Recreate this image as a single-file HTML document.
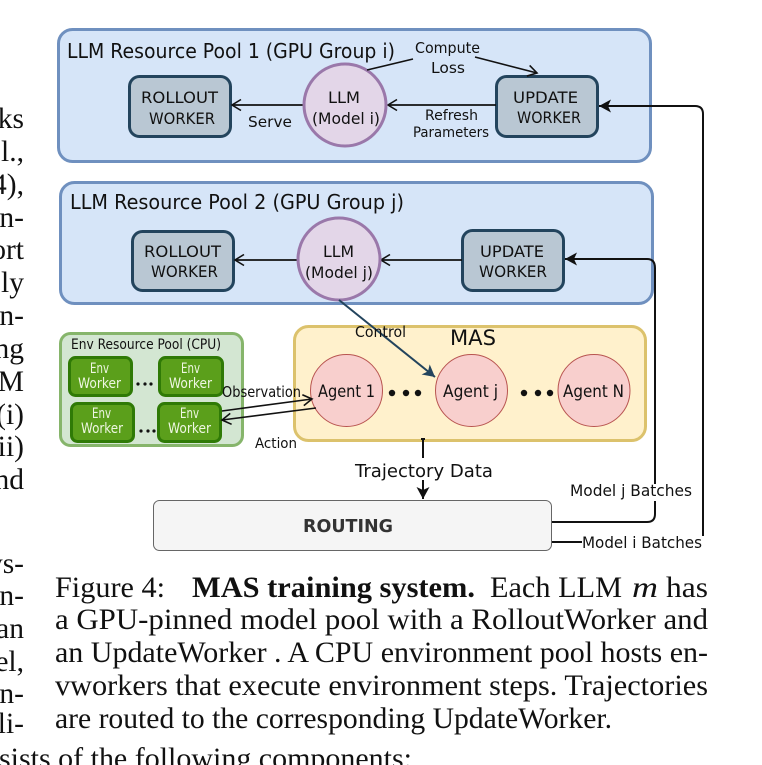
<!DOCTYPE html>
<html><head><meta charset="utf-8"><style>
html,body{margin:0;padding:0;background:#fff}
svg{display:block}
.d{font-family:"DejaVu Sans","Liberation Sans",sans-serif;fill:#111}
.s{font-family:"Liberation Serif",serif;font-size:29.5px;fill:#111}
.w{fill:#eef6e2;font-size:14px}
</style></head><body>
<svg width="762" height="765" viewBox="0 0 762 765" xmlns="http://www.w3.org/2000/svg">
<defs>
<marker id="o" markerUnits="userSpaceOnUse" markerWidth="14" markerHeight="14" refX="11" refY="7" orient="auto"><path d="M2 1.5L11 7L2 12.5" fill="none" stroke="#111" stroke-width="1.6"/></marker>
<marker id="f" markerUnits="userSpaceOnUse" markerWidth="16" markerHeight="16" refX="13" refY="8" orient="auto"><path d="M1 1.5L13 8L1 14.5L4 8Z" fill="#111"/></marker>
<marker id="c" markerUnits="userSpaceOnUse" markerWidth="16" markerHeight="16" refX="13" refY="8" orient="auto"><path d="M1 1.5L13 8L1 14.5L4 8Z" fill="#23445d"/></marker>
</defs>

<!-- left column -->
<g class="s" text-anchor="end">
<text x="24" y="128">ks</text><text x="24" y="161">l.,</text><text x="24" y="194">4),</text><text x="24" y="227">n-</text><text x="24" y="259">ort</text><text x="24" y="292">ly</text><text x="24" y="325">n-</text><text x="24" y="358">ng</text><text x="24" y="391">M</text><text x="24" y="424">(i)</text><text x="24" y="456">ii)</text><text x="24" y="489">nd</text>
<text x="24" y="573">ys-</text><text x="24" y="605">n-</text><text x="24" y="638">an</text><text x="24" y="671">el,</text><text x="24" y="703">n-</text><text x="24" y="733">li-</text>
</g>

<!-- pools -->
<rect x="58.5" y="29.5" width="592" height="132" rx="14" fill="#d6e5f8" stroke="#6f90bf" stroke-width="3"/>
<rect x="60.5" y="182.5" width="592" height="121" rx="14" fill="#d6e5f8" stroke="#6f90bf" stroke-width="3"/>
<rect x="60.5" y="333.5" width="182" height="112" rx="10" fill="#d3e6d2" stroke="#86b56b" stroke-width="3"/>
<rect x="294.5" y="326.5" width="351" height="114" rx="14" fill="#fff1cc" stroke="#dcc26c" stroke-width="3"/>

<!-- pool 1 nodes -->
<rect x="129.5" y="76.5" width="101" height="60" rx="10" fill="#b9c7d3" stroke="#23445d" stroke-width="3"/>
<rect x="496.5" y="76.5" width="101" height="60" rx="10" fill="#b9c7d3" stroke="#23445d" stroke-width="3"/>
<path d="M304 105H232" fill="none" stroke="#111" stroke-width="1.8" marker-end="url(#o)"/>
<path d="M496 105H388" fill="none" stroke="#111" stroke-width="1.8" marker-end="url(#o)"/>
<circle cx="345" cy="105" r="41" fill="#e3d6e8" stroke="#9a78aa" stroke-width="3"/>
<path d="M367 70L413 59" fill="none" stroke="#111" stroke-width="1.6"/>
<path d="M475 57L537 73" fill="none" stroke="#111" stroke-width="1.6" marker-end="url(#o)"/>

<!-- pool 2 nodes -->
<rect x="132.5" y="231.5" width="101" height="59" rx="10" fill="#b9c7d3" stroke="#23445d" stroke-width="3"/>
<rect x="462.5" y="230.5" width="101" height="60" rx="10" fill="#b9c7d3" stroke="#23445d" stroke-width="3"/>
<path d="M298 260H235" fill="none" stroke="#111" stroke-width="1.8" marker-end="url(#o)"/>
<path d="M462 260H381" fill="none" stroke="#111" stroke-width="1.8" marker-end="url(#o)"/>
<circle cx="339" cy="259" r="41" fill="#e3d6e8" stroke="#9a78aa" stroke-width="3"/>

<!-- env workers -->
<g fill="#5b9f1b" stroke="#2f7a06" stroke-width="3">
<rect x="69.5" y="357.5" width="62" height="38" rx="6"/>
<rect x="159.5" y="357.5" width="63" height="38" rx="6"/>
<rect x="71.5" y="403.5" width="62" height="38" rx="6"/>
<rect x="158.5" y="403.5" width="62" height="38" rx="6"/>
</g>
<g fill="#111"><circle cx="138" cy="384" r="1.6"/><circle cx="145" cy="384" r="1.6"/><circle cx="151" cy="384" r="1.6"/><circle cx="141" cy="431" r="1.6"/><circle cx="148" cy="431" r="1.6"/><circle cx="154" cy="431" r="1.6"/></g>

<!-- agents -->
<g fill="#f8cfcd" stroke="#b85450" stroke-width="1">
<circle cx="346.5" cy="390.5" r="36"/><circle cx="471.5" cy="390.5" r="36"/><circle cx="594" cy="390.5" r="36"/>
</g>
<g fill="#111"><circle cx="392" cy="393" r="3.2"/><circle cx="406" cy="393" r="3.2"/><circle cx="418" cy="393" r="3.2"/><circle cx="524" cy="393" r="3.2"/><circle cx="538" cy="393" r="3.2"/><circle cx="550" cy="393" r="3.2"/></g>

<!-- routing -->
<rect x="153.5" y="500.5" width="398" height="50" rx="6" fill="#f5f5f5" stroke="#666" stroke-width="1"/>

<!-- connectors -->
<path d="M339 300L435 377" fill="none" stroke="#23445d" stroke-width="2" marker-end="url(#c)"/>
<path d="M222 411L312 399" fill="none" stroke="#111" stroke-width="1.6" marker-end="url(#o)"/>
<path d="M316 408L222 420" fill="none" stroke="#111" stroke-width="1.6" marker-end="url(#o)"/>
<path d="M552 522H647Q655 522 655 514V268Q655 259 647 259H565" fill="none" stroke="#111" stroke-width="2" marker-end="url(#f)"/>
<path d="M703 536V114Q703 106 695 106H599" fill="none" stroke="#111" stroke-width="2" marker-end="url(#f)"/>
<path d="M552 542H582" fill="none" stroke="#111" stroke-width="2"/>
<path d="M423 439V458M421 439H425" fill="none" stroke="#111" stroke-width="2"/>
<path d="M423 480V499" fill="none" stroke="#111" stroke-width="2" marker-end="url(#f)"/>
<rect x="580" y="484" width="112" height="17" fill="#fff"/>

<!-- diagram text -->
<g class="d">
<text x="67" y="58" font-size="20" textLength="328" lengthAdjust="spacingAndGlyphs">LLM Resource Pool 1 (GPU Group i)</text>
<text x="70" y="209" font-size="20" textLength="334" lengthAdjust="spacingAndGlyphs">LLM Resource Pool 2 (GPU Group j)</text>
<text x="71" y="349" font-size="14" textLength="150" lengthAdjust="spacingAndGlyphs">Env Resource Pool (CPU)</text>
<text x="450" y="345" font-size="21" textLength="46" lengthAdjust="spacingAndGlyphs">MAS</text>
<text x="303" y="532" font-size="18" font-weight="bold" fill="#333" textLength="90" lengthAdjust="spacingAndGlyphs">ROUTING</text>

<text x="415" y="53" font-size="15" textLength="65" lengthAdjust="spacingAndGlyphs">Compute</text>
<text x="431" y="73" font-size="15" textLength="34" lengthAdjust="spacingAndGlyphs">Loss</text>
<text x="248" y="127" font-size="15" textLength="44" lengthAdjust="spacingAndGlyphs">Serve</text>
<text x="425" y="120" font-size="14" textLength="53" lengthAdjust="spacingAndGlyphs">Refresh</text>
<text x="413" y="137" font-size="14" textLength="76" lengthAdjust="spacingAndGlyphs">Parameters</text>

<text x="141" y="103" font-size="16" textLength="77" lengthAdjust="spacingAndGlyphs">ROLLOUT</text>
<text x="149" y="124" font-size="16" textLength="66" lengthAdjust="spacingAndGlyphs">WORKER</text>
<text x="328" y="103" font-size="16" textLength="32" lengthAdjust="spacingAndGlyphs">LLM</text>
<text x="312" y="124" font-size="16" textLength="68" lengthAdjust="spacingAndGlyphs">(Model i)</text>
<text x="513" y="103" font-size="16" textLength="65" lengthAdjust="spacingAndGlyphs">UPDATE</text>
<text x="517" y="123" font-size="16" textLength="64" lengthAdjust="spacingAndGlyphs">WORKER</text>

<text x="144" y="257" font-size="16" textLength="77" lengthAdjust="spacingAndGlyphs">ROLLOUT</text>
<text x="151" y="277" font-size="16" textLength="67" lengthAdjust="spacingAndGlyphs">WORKER</text>
<text x="323" y="257" font-size="16" textLength="31" lengthAdjust="spacingAndGlyphs">LLM</text>
<text x="305" y="278" font-size="16" textLength="68" lengthAdjust="spacingAndGlyphs">(Model j)</text>
<text x="480" y="257" font-size="16" textLength="64" lengthAdjust="spacingAndGlyphs">UPDATE</text>
<text x="479" y="277" font-size="16" textLength="68" lengthAdjust="spacingAndGlyphs">WORKER</text>

<text x="355" y="337" font-size="15" textLength="51" lengthAdjust="spacingAndGlyphs">Control</text>
<text x="318" y="397" font-size="17" textLength="57" lengthAdjust="spacingAndGlyphs">Agent 1</text>
<text x="443" y="397" font-size="17" textLength="55" lengthAdjust="spacingAndGlyphs">Agent j</text>
<text x="563" y="397" font-size="17" textLength="61" lengthAdjust="spacingAndGlyphs">Agent N</text>
<text x="222" y="397" font-size="15" textLength="79" lengthAdjust="spacingAndGlyphs">Observation</text>
<text x="255" y="448" font-size="14" textLength="42" lengthAdjust="spacingAndGlyphs">Action</text>
<text x="355" y="477" font-size="18" textLength="138" lengthAdjust="spacingAndGlyphs">Trajectory Data</text>
<text x="570" y="496" font-size="16" textLength="122" lengthAdjust="spacingAndGlyphs">Model j Batches</text>
<text x="582" y="548" font-size="16" textLength="120" lengthAdjust="spacingAndGlyphs">Model i Batches</text>

<text class="w" x="90" y="373" textLength="19" lengthAdjust="spacingAndGlyphs">Env</text>
<text class="w" x="78" y="388" textLength="43" lengthAdjust="spacingAndGlyphs">Worker</text>
<text class="w" x="181" y="373" textLength="19" lengthAdjust="spacingAndGlyphs">Env</text>
<text class="w" x="169" y="388" textLength="43" lengthAdjust="spacingAndGlyphs">Worker</text>
<text class="w" x="92" y="418" textLength="19" lengthAdjust="spacingAndGlyphs">Env</text>
<text class="w" x="81" y="433" textLength="42" lengthAdjust="spacingAndGlyphs">Worker</text>
<text class="w" x="180" y="418" textLength="19" lengthAdjust="spacingAndGlyphs">Env</text>
<text class="w" x="168" y="433" textLength="43" lengthAdjust="spacingAndGlyphs">Worker</text>
</g>

<!-- caption -->
<g class="s">
<text x="55" y="597" textLength="110" lengthAdjust="spacingAndGlyphs">Figure 4:</text>
<text x="192" y="597" font-weight="bold" textLength="283" lengthAdjust="spacingAndGlyphs">MAS training system.</text>
<text x="490" y="597" textLength="132" lengthAdjust="spacingAndGlyphs">Each LLM</text>
<text x="632" y="597" font-style="italic" textLength="26" lengthAdjust="spacingAndGlyphs">m</text>
<text x="666" y="597" textLength="42" lengthAdjust="spacingAndGlyphs">has</text>
<text x="55" y="629" textLength="653" lengthAdjust="spacingAndGlyphs">a GPU-pinned model pool with a RolloutWorker and</text>
<text x="55" y="662" textLength="653" lengthAdjust="spacingAndGlyphs">an UpdateWorker . A CPU environment pool hosts en-</text>
<text x="55" y="695" textLength="653" lengthAdjust="spacingAndGlyphs">vworkers that execute environment steps. Trajectories</text>
<text x="55" y="728" textLength="557" lengthAdjust="spacingAndGlyphs">are routed to the corresponding UpdateWorker.</text>
<text x="-1" y="768" textLength="413" lengthAdjust="spacingAndGlyphs">sists of the following components:</text>
</g>
</svg>
</body></html>
